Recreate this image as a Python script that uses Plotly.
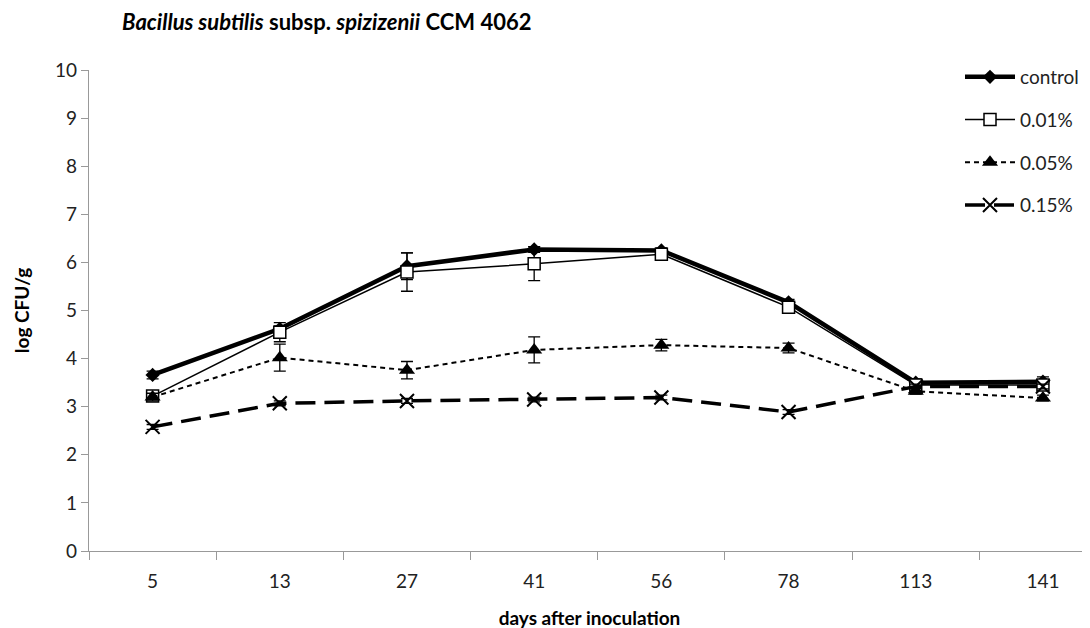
import plotly.graph_objects as go

days = ["5", "13", "27", "41", "56", "78", "113", "141"]
control = [3.66, 4.62, 5.92, 6.27, 6.25, 5.17, 3.50, 3.52]
p001 = [3.22, 4.55, 5.80, 5.97, 6.17, 5.07, 3.45, 3.45]
p005 = [3.20, 4.02, 3.76, 4.18, 4.28, 4.22, 3.32, 3.18]
p015 = [2.58, 3.07, 3.12, 3.15, 3.19, 2.89, 3.42, 3.42]
err_control = [0.08, 0.06, 0.28, 0.06, 0.05, 0.06, 0.08, 0.10]
err_p001 = [0.08, 0.20, 0.40, 0.35, 0.06, 0.06, 0.06, 0.06]
err_p005 = [0.08, 0.28, 0.18, 0.27, 0.12, 0.10, 0.06, 0.06]
err_p015 = [0.05, 0.05, 0.05, 0.05, 0.05, 0.05, 0.05, 0.05]

FONT = "Lato"
OFF = 8  # page body margin added by the browser

fig = go.Figure()

def add(name, y, err, line, marker, group):
    fig.add_trace(go.Scatter(
        x=days, y=y, name=name, mode="lines+markers",
        line=line, marker=marker, legendgroup=group,
        error_y=dict(type="data", array=err, color="black", thickness=1.3, width=6),
    ))

add("control", control, err_control,
    dict(color="black", width=4.5),
    dict(symbol="diamond", size=11, color="black"), "a")
add("0.01%", p001, err_p001,
    dict(color="black", width=1.5),
    dict(symbol="square", size=12, color="white", line=dict(color="black", width=1.5)), "b")
add("0.05%", p005, err_p005,
    dict(color="black", width=2, dash="5px,4px"),
    dict(symbol="triangle-up", size=14, color="black"), "c")
add("0.15%", p015, err_p015,
    dict(color="black", width=3.5, dash="20px,9px"),
    dict(symbol="x-thin", size=14, color="black", line=dict(color="black", width=2)), "d")

fig.update_layout(
    width=1090, height=628,
    paper_bgcolor="white", plot_bgcolor="white",
    margin=dict(l=89 - OFF, r=OFF, t=70 - OFF, b=77 + OFF, autoexpand=False),
    font=dict(family=FONT, size=19, color="#222"),
    title=dict(
        text="<b><i>Bacillus subtilis</i> subsp. <i>spizizenii</i> CCM 4062</b>",
        x=(122 - OFF)/1090, xanchor="left", xref="container",
        y=1-(22 - OFF)/628, yanchor="middle", yref="container",
        font=dict(family=FONT, size=22, color="black"),
    ),
    legend=dict(
        x=(960 - OFF)/1090, y=1-(58 - OFF)/628, xanchor="left", yanchor="top",
        xref="container", yref="container",
        bgcolor="rgba(0,0,0,0)", font=dict(size=19, color="#222"),
        tracegroupgap=15, itemwidth=50,
    ),
    showlegend=True,
)

fig.update_xaxes(
    type="category", range=[-0.5, 7.37], automargin=False,
    showline=True, linecolor="#999", linewidth=1.2,
    ticks="outside", tickson="boundaries", ticklen=8, tickcolor="#999",
    ticklabelstandoff=13,
    showgrid=False, zeroline=False,
    title=dict(text="<b>days after inoculation</b>", font=dict(size=19, color="black"), standoff=20),
    tickfont=dict(size=19, color="#222"),
)
fig.update_yaxes(
    range=[0, 10], dtick=1, automargin=False,
    showline=True, linecolor="#999", linewidth=1.2,
    ticks="outside", ticklen=7, tickcolor="#999",
    showgrid=False, zeroline=False,
    title=dict(text="<b>log CFU/g</b>", font=dict(size=19, color="black"), standoff=20),
    tickfont=dict(size=19, color="#222"),
)

fig.write_html("out.html")
